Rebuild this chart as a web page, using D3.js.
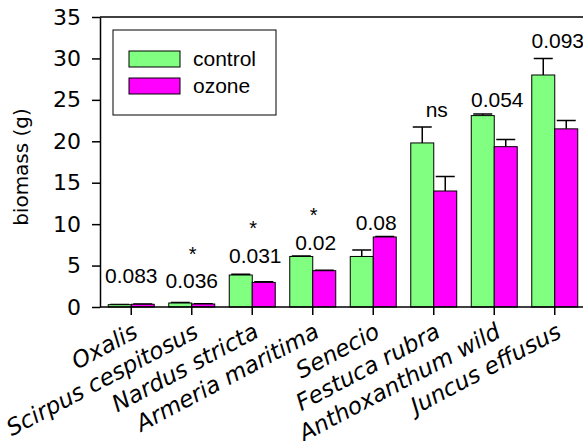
<!DOCTYPE html>
<html lang="en">
    <head>
        <meta charset="UTF-8" />
        <title>biomass</title>
        <style>
            body { margin: 0; background: #fff; }
        </style>
    </head>
    <body>
        <div id="main"></div>
        <script src="https://cdn.jsdelivr.net/npm/d3@7/dist/d3.min.js"></script>
        <script>
            const species = ["Oxalis", "Scirpus cespitosus", "Nardus stricta", "Armeria maritima",
                "Senecio", "Festuca rubra", "Anthoxanthum wild", "Juncus effusus"]
            const control = [0.28, 0.48, 3.86, 6.1, 6.1, 19.8, 23.1, 28.0]
            const ozone = [0.33, 0.36, 2.97, 4.38, 8.45, 14.0, 19.35, 21.5]
            const controlErr = [0.02, 0.05, 0.08, 0.06, 0.78, 1.93, 0.2, 2.0]
            const ozoneErr = [0.02, 0.03, 0.08, 0.05, 0.05, 1.74, 0.87, 1.0]
            const pLabels = ["0.083", "0.036", "0.031", "0.02", "0.08", "ns", "0.054", "0.093"]
            const pLabelY = [2.93, 2.33, 5.35, 6.9, 9.33, 22.97, 24.1, 31.3]
            const starY = [null, 5.6, 8.7, 10.3, null, null, null, null]
            const yTicks = [0, 5, 10, 15, 20, 25, 30, 35]
            const groups = ["control", "ozone"]
            const colors = { control: "#80ff80", ozone: "#ff00ff" }

            const svgWidth = 583
            const svgHeight = 441
            const plotLeft = 100
            const plotTop = 17
            const plotBottom = 307
            const sans = "DejaVu Sans"
            const arial = "Liberation Sans"

            const svg = d3.select("#main").append("svg")
                .attr("width", svgWidth)
                .attr("height", svgHeight)

            const x = d3.scaleBand().domain(species).range([plotLeft + 1, plotLeft + 485])
                .paddingInner(0.24).paddingOuter(0.12)
            const xSub = d3.scaleBand().domain(groups).range([0, x.bandwidth()])
            const y = d3.scaleLinear().domain([0, 35]).range([plotBottom, plotTop])

            const rows = species.map((s, i) => ({
                s, i,
                vals: [
                    { g: "control", v: control[i], e: controlErr[i] },
                    { g: "ozone", v: ozone[i], e: ozoneErr[i] }
                ]
            }))

            const bars = svg.append("g").selectAll("g").data(rows).enter()
                .append("g")
                .attr("transform", (d) => `translate(${x(d.s)},0)`)

            // error bars first so the bar outline sits on top
            bars.selectAll("path.err").data((d) => d.vals).enter()
                .append("path")
                .classed("err", true)
                .attr("d", (d) => {
                    const cx = xSub(d.g) + xSub.bandwidth() / 2
                    const y0 = y(d.v), y1 = y(d.v + d.e)
                    return `M${cx},${y0}V${y1}M${cx - 9.5},${y1}H${cx + 9.5}`
                })
                .attr("stroke", "#000")
                .attr("stroke-width", 1.5)
                .attr("fill", "none")

            bars.selectAll("rect").data((d) => d.vals).enter()
                .append("rect")
                .attr("x", (d) => xSub(d.g))
                .attr("y", (d) => y(d.v))
                .attr("width", xSub.bandwidth())
                .attr("height", (d) => plotBottom - y(d.v))
                .attr("fill", (d) => colors[d.g])
                .attr("stroke", "#000")
                .attr("stroke-width", 1)

            // y axis
            const yAxis = svg.append("g")
                .attr("transform", `translate(${plotLeft},0)`)
                .call(d3.axisLeft(y).tickValues(yTicks).tickSize(8).tickPadding(11).tickSizeOuter(0))
            yAxis.select(".domain").attr("stroke-width", 1.5)
            yAxis.selectAll(".tick line").attr("stroke-width", 1.5)
            yAxis.selectAll("text")
                .attr("font-family", sans)
                .attr("font-size", 22)
                .attr("fill", "#000")

            // x axis
            const xAxis = svg.append("g")
                .attr("transform", `translate(0,${plotBottom})`)
                .call(d3.axisBottom(x).tickSize(8).tickSizeOuter(0))
            xAxis.select(".domain").attr("stroke-width", 1.5)
                .attr("d", `M${plotLeft},0H${svgWidth}`)
            xAxis.selectAll(".tick line").attr("stroke-width", 1.5)
            xAxis.selectAll("text")
                .attr("font-family", sans)
                .attr("font-style", "italic")
                .attr("font-size", 23)
                .attr("fill", "#000")
                .attr("text-anchor", "end")
                .attr("y", 0)
                .attr("dy", 0)
                .attr("transform", "translate(8,29.5) rotate(-28)")

            // top frame
            svg.append("line")
                .attr("x1", plotLeft).attr("x2", svgWidth)
                .attr("y1", plotTop).attr("y2", plotTop)
                .attr("stroke", "#000").attr("stroke-width", 1.5)

            svg.append("text")
                .attr("transform", `translate(28,167) rotate(-90)`)
                .attr("text-anchor", "middle")
                .attr("font-family", sans)
                .attr("font-size", 20)
                .text("biomass (g)")

            // significance labels
            svg.append("g").selectAll("text").data(rows).enter()
                .append("text")
                .attr("x", (d) => x(d.s) + x.bandwidth() / 2 + (d.i > 1 ? 3 : 0))
                .attr("y", (d) => y(pLabelY[d.i]))
                .attr("text-anchor", "middle")
                .attr("font-family", arial)
                .attr("font-size", 21)
                .text((d) => pLabels[d.i])

            svg.append("g").selectAll("text").data(rows.filter((d) => starY[d.i] !== null)).enter()
                .append("text")
                .attr("x", (d) => x(d.s) + x.bandwidth() / 2 + 1)
                .attr("y", (d) => y(starY[d.i]))
                .attr("text-anchor", "middle")
                .attr("font-family", arial)
                .attr("font-size", 20)
                .text("*")

            // legend
            const legend = svg.append("g").attr("transform", "translate(113,30)")
            legend.append("rect")
                .attr("width", 163).attr("height", 85)
                .attr("fill", "#fff").attr("stroke", "#000").attr("stroke-width", 1)
            const item = legend.selectAll("g").data(groups).enter()
                .append("g")
                .attr("transform", (d, i) => `translate(16,${21 + i * 27})`)
            item.append("rect")
                .attr("width", 51).attr("height", 16)
                .attr("fill", (d) => colors[d])
                .attr("stroke", "#000").attr("stroke-width", 1)
            item.append("text")
                .attr("x", 64).attr("y", 15)
                .attr("font-family", arial)
                .attr("font-size", 21)
                .text((d) => d)
        </script>
    </body>
</html>
